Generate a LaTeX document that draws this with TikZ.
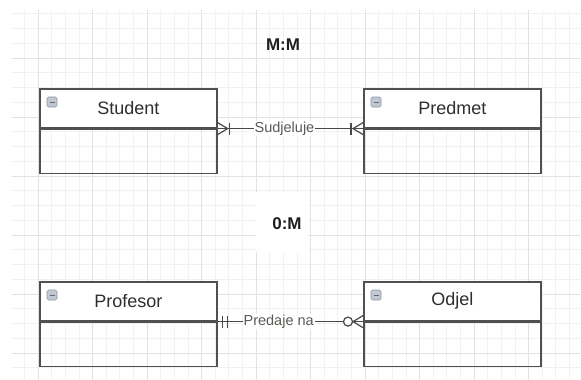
\documentclass[tikz,border=0pt]{standalone}
\usepackage{fontspec}
\setmainfont{Liberation Sans}
\usetikzlibrary{calc}
\definecolor{minorc}{HTML}{F1F1F1}
\definecolor{majorc}{HTML}{E2E2E2}
\definecolor{boxc}{HTML}{505050}
\definecolor{connc}{HTML}{484848}
\definecolor{lblc}{HTML}{5A5A55}
\definecolor{iconfill}{HTML}{C2C8D2}
\definecolor{icondraw}{HTML}{8C95A5}
\begin{document}
\begin{tikzpicture}[x=1pt,y=-1pt,
  minorgrid/.style={draw=minorc,line width=0.7pt},
  majorgrid/.style={draw=majorc,line width=0.9pt},
  headbox/.style={draw=boxc,line width=1.6pt,fill=white,minimum width=177pt,minimum height=39pt,inner sep=0pt,anchor=north west,
    font=\fontsize{18}{20}\selectfont,text=black!82},
  bodybox/.style={draw=boxc,line width=1.6pt,minimum width=177pt,minimum height=44pt,inner sep=0pt,anchor=north},
  iconbox/.style={draw=icondraw,fill=iconfill,line width=0.6pt,rounded corners=1.5pt,minimum size=10pt,inner sep=0pt,
    path picture={\draw[icondraw!70!black,line width=0.8pt] ([xshift=-2.5pt]path picture bounding box.center) -- ([xshift=2.5pt]path picture bounding box.center);}},
  conn/.style={draw=connc,line width=1.2pt},
  lbl/.style={fill=white,inner sep=1pt,text=lblc,font=\fontsize{14.5}{16}\selectfont},
  card/.style={font=\bfseries\fontsize{17}{19}\selectfont,text=black!88}]
\useasboundingbox (0,0) rectangle (581,380);
\fill[white] (0,0) rectangle (581,380);
% grid
\foreach \k in {-1,...,39} \draw[minorgrid] ({38+13.625*\k},10) -- ({38+13.625*\k},380);
\foreach \k in {-3,...,21} \draw[minorgrid] (12,{58+14.75*\k}) -- (580,{58+14.75*\k});
\foreach \k in {0,...,9} \draw[majorgrid] ({38+54.5*\k},10) -- ({38+54.5*\k},380);
\foreach \k in {0,...,5} \draw[majorgrid] (12,{58+59*\k}) -- (580,{58+59*\k});
% cardinality titles
\node[card] (mm) at (283,45) {M:M};
\fill[white] (256,192) rectangle (308,252);
\node[card] (om) at (287,224) {0:M};
% entities
\node[headbox] (studh) at (39,88) {Student};
\node[bodybox] (studb) at (studh.south) {};
\node[headbox] (predh) at (363,88) {Predmet};
\node[bodybox] (predb) at (predh.south) {};
\node[headbox] (profh) at (39,281) {Profesor};
\node[bodybox] (profb) at (profh.south) {};
\node[headbox] (odjh) at (363,281) {Odjel};
\node[bodybox] (odjb) at (odjh.south) {};
% icons
\node[iconbox] (i1) at ([xshift=13pt,yshift=-14pt]studh.north west) {};
\node[iconbox] (i2) at ([xshift=13pt,yshift=-14pt]predh.north west) {};
\node[iconbox] (i3) at ([xshift=13pt,yshift=-14pt]profh.north west) {};
\node[iconbox] (i4) at ([xshift=13pt,yshift=-14pt]odjh.north west) {};
% connectors
\coordinate (s) at (studh.south east);
\coordinate (p) at (predh.south west);
\coordinate (f) at (profh.south east);
\coordinate (o) at (odjh.south west);
\draw[conn] (s) -- node[lbl,pos=0.46] (l1) {Sudjeluje} (p);
\draw[conn] (f) -- node[lbl,pos=0.42] (l2) {Predaje na} (o);
% Student end: one to many
\draw[conn] ($(s)+(10,0)$) -- ($(s)+(0,-6)$);
\draw[conn] ($(s)+(10,0)$) -- ($(s)+(0,6)$);
\draw[conn] ($(s)+(12,-6)$) -- ($(s)+(12,6)$);
% Predmet end: one to many
\draw[conn] ($(p)+(-10,0)$) -- ($(p)+(0,-6)$);
\draw[conn] ($(p)+(-10,0)$) -- ($(p)+(0,6)$);
\draw[conn] ($(p)+(-12,-6)$) -- ($(p)+(-12,6)$);
% Profesor end: mandatory one
\draw[conn] ($(f)+(5,-6)$) -- ($(f)+(5,6)$);
\draw[conn] ($(f)+(10,-6)$) -- ($(f)+(10,6)$);
% Odjel end: zero to many
\draw[conn] ($(o)+(-10,0)$) -- ($(o)+(0,-6)$);
\draw[conn] ($(o)+(-10,0)$) -- ($(o)+(0,6)$);
\draw[conn,fill=white] ($(o)+(-15,0)$) circle (4.5);
\end{tikzpicture}
\end{document}
